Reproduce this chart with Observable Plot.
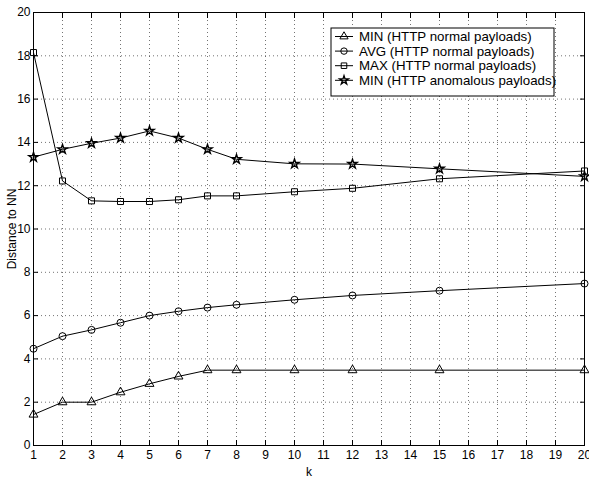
<!DOCTYPE html>
<html>
<head>
<meta charset="utf-8">
<script src="https://cdn.jsdelivr.net/npm/d3@7"></script>
<script src="https://cdn.jsdelivr.net/npm/@observablehq/plot@0.6"></script>
<style>
  html, body { margin: 0; padding: 0; background: #fff; }
  #chart { position: relative; width: 589px; height: 477px; }
</style>
</head>
<body>
<div id="chart"></div>
<script>
const kValues = [1, 2, 3, 4, 5, 6, 7, 8, 10, 12, 15, 20];
const minNormal = [1.43, 2.0, 2.0, 2.46, 2.85, 3.19, 3.48, 3.48, 3.48, 3.48, 3.48, 3.48];
const avgNormal = [4.47, 5.05, 5.34, 5.67, 6.0, 6.2, 6.37, 6.5, 6.73, 6.93, 7.15, 7.48];
const maxNormal = [18.15, 12.22, 11.3, 11.27, 11.27, 11.35, 11.53, 11.53, 11.72, 11.88, 12.32, 12.68];
const minAnomalous = [13.32, 13.68, 13.96, 14.2, 14.53, 14.2, 13.68, 13.22, 13.01, 13.0, 12.78, 12.43];
const seriesNames = [
  "MIN (HTTP normal payloads)",
  "AVG (HTTP normal payloads)",
  "MAX (HTTP normal payloads)",
  "MIN (HTTP anomalous payloads)"
];
const seriesValues = [minNormal, avgNormal, maxNormal, minAnomalous];
const seriesSymbols = ["triangle", "circle", "square", "star"];
const seriesRadius = [3.3, 3.5, 3.4, 2.9];
const seriesStrokeWidth = [1, 1, 1, 1.4];
const xTicks = d3.range(1, 21);
const yTicks = d3.range(0, 21, 2);

const data = seriesNames.flatMap((name, si) =>
  kValues.map((k, i) => ({ k, value: seriesValues[si][i], series: name }))
);

const font = "'Liberation Sans', Arial, Helvetica, sans-serif";
const gridStyle = { stroke: "#000", strokeOpacity: 0.55, strokeDasharray: "1,3" };
const noText = () => "";

const chart = Plot.plot({
  width: 589,
  height: 477,
  marginLeft: 33,
  marginRight: 5,
  marginTop: 12,
  marginBottom: 32,
  style: { fontFamily: font, fontSize: "12px", color: "black", background: "white" },
  x: { type: "linear", domain: [1, 20] },
  y: { type: "linear", domain: [0, 20] },
  marks: [
    Plot.gridX(xTicks, gridStyle),
    Plot.gridY(yTicks, gridStyle),
    Plot.frame({ stroke: "black" }),
    // inward ticks (outward ticks shifted inside the frame)
    Plot.axisX(xTicks, { anchor: "bottom", tickSize: 5, dy: -5, tickFormat: noText, label: null }),
    Plot.axisX(xTicks, { anchor: "top", tickSize: 5, dy: 5, tickFormat: noText, label: null }),
    Plot.axisY(yTicks, { anchor: "left", tickSize: 5, dx: 5, tickFormat: noText, label: null }),
    Plot.axisY(yTicks, { anchor: "right", tickSize: 5, dx: -5, tickFormat: noText, label: null }),
    // labels
    Plot.axisX(xTicks, { anchor: "bottom", tickSize: 0, tickPadding: 5, label: "k", labelAnchor: "center", labelArrow: "none", labelOffset: 30 }),
    Plot.axisY(yTicks, { anchor: "left", tickSize: 0, tickPadding: 3, label: "Distance to NN", labelAnchor: "center", labelArrow: "none", labelOffset: 26 }),
    Plot.line(data, { x: "k", y: "value", z: "series", stroke: "black", strokeWidth: 1 }),
    ...seriesNames.map((name, si) =>
      Plot.dot(data.filter(d => d.series === name), {
        x: "k", y: "value", symbol: () => seriesSymbols[si], r: seriesRadius[si],
        stroke: "black", fill: "none", strokeWidth: seriesStrokeWidth[si]
      })
    )
  ]
});

document.getElementById("chart").appendChild(chart);

// legend box inside plot area (top right)
const svg = d3.select(chart);
const lg = svg.append("g").attr("transform", "translate(331,28)");
lg.append("rect").attr("width", 223).attr("height", 68).attr("fill", "white").attr("stroke", "black");
const symbolTypes = { triangle: d3.symbolTriangle, circle: d3.symbolCircle, square: d3.symbolSquare, star: d3.symbolStar };
seriesNames.forEach((name, i) => {
  const y = 8.5 + i * 14.6;
  lg.append("line").attr("x1", 4).attr("x2", 22).attr("y1", y).attr("y2", y).attr("stroke", "black");
  lg.append("path")
    .attr("d", d3.symbol(symbolTypes[seriesSymbols[i]], Math.PI * seriesRadius[i] * seriesRadius[i] * 0.85)())
    .attr("transform", `translate(13,${y})`)
    .attr("fill", "none").attr("stroke", "black").attr("stroke-width", seriesStrokeWidth[i]);
  lg.append("text").attr("x", 28).attr("y", y).attr("dy", "0.35em")
    .attr("text-anchor", "start")
    .attr("font-family", font).attr("font-size", 13.3).attr("fill", "black").text(name);
});
</script>
</body>
</html>
